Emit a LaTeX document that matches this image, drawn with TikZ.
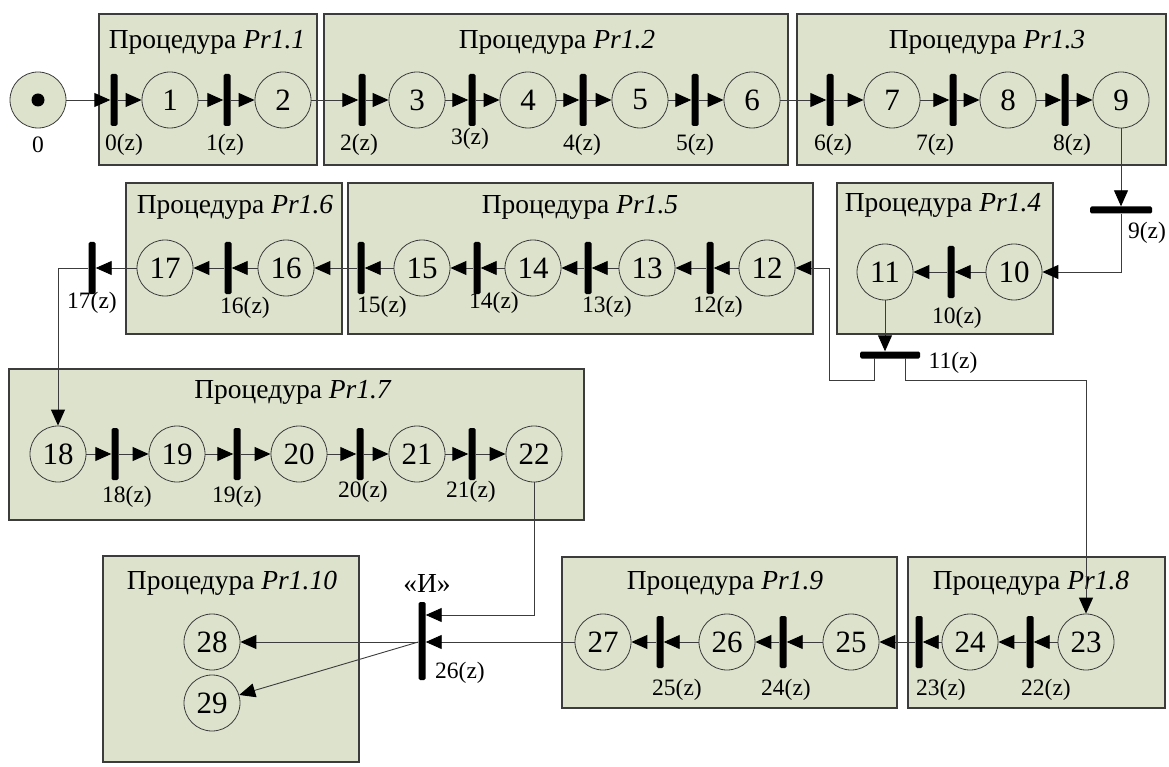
\documentclass[tikz,border=0pt]{standalone}
\usepackage{fontspec}
\setmainfont{Liberation Serif}
\usetikzlibrary{arrows.meta}
\definecolor{boxfill}{RGB}{220,226,204}
\definecolor{edge}{RGB}{60,60,60}
\tikzset{
 place/.style={circle,draw=edge,line width=0.8pt,fill=boxfill,minimum size=56pt,inner sep=0pt,font=\fontsize{31}{33}\selectfont},
 vbar/.style={fill=black,minimum width=7pt,minimum height=52pt,inner sep=0pt,rounded corners=1.5pt},
 hbar/.style={fill=black,minimum width=62pt,minimum height=7pt,inner sep=0pt,rounded corners=1.5pt},
 proc/.style={draw=edge,fill=boxfill,line width=1.2pt},
 ttl/.style={font=\fontsize{27.5}{29}\selectfont,inner sep=0pt},
 lbl/.style={font=\fontsize{23.5}{25}\selectfont,inner sep=0pt},
 arr/.style={draw=edge,line width=0.9pt,-{Triangle[length=16pt,width=14pt,color=black]}},
 ln/.style={draw=edge,line width=0.9pt},
}
\begin{document}
\begin{tikzpicture}[x=1pt,y=-1pt]
\useasboundingbox (0,0) rectangle (1169,767);
% ---------- boxes ----------
\path[proc] (99,14) rectangle (317,165);
\path[proc] (324,14) rectangle (788,165);
\path[proc] (797,14) rectangle (1166,165);
\path[proc] (126,183) rectangle (342,334);
\path[proc] (348,183) rectangle (813,334);
\path[proc] (837,183) rectangle (1053,334);
\path[proc] (9,369) rectangle (584,520);
\path[proc] (103,556) rectangle (359,762);
\path[proc] (562,557) rectangle (897,708);
\path[proc] (908,557) rectangle (1165,708);
% ---------- titles ----------
\node[ttl] (t1) at (207,42) {Процедура \textit{Pr1.1}};
\node[ttl] (t2) at (557,42) {Процедура \textit{Pr1.2}};
\node[ttl] (t3) at (987,42) {Процедура \textit{Pr1.3}};
\node[ttl] (t4) at (943,205) {Процедура \textit{Pr1.4}};
\node[ttl] (t5) at (580,207) {Процедура \textit{Pr1.5}};
\node[ttl] (t6) at (235,207) {Процедура \textit{Pr1.6}};
\node[ttl] (t7) at (293,392) {Процедура \textit{Pr1.7}};
\node[ttl] (t8) at (1031,583) {Процедура \textit{Pr1.8}};
\node[ttl] (t9) at (725,583) {Процедура \textit{Pr1.9}};
\node[ttl] (t10) at (232,583) {Процедура \textit{Pr1.10}};
% ---------- row 1 ----------
\node[place] (p0) at (38,100) {};
\fill (p0.center) circle (6.5pt);
\node[lbl] (l0) at (38,145) {0};
\node[vbar] (b0) at (114,100) {};
\node[place] (p1) at (170,100) {1};
\node[vbar] (b1) at (227,100) {};
\node[place] (p2) at (283,100) {2};
\node[vbar] (b2) at (362,100) {};
\node[place] (p3) at (417,100) {3};
\node[vbar] (b3) at (472,100) {};
\node[place] (p4) at (528,100) {4};
\node[vbar] (b4) at (583,100) {};
\node[place] (p5) at (640,100) {5};
\node[vbar] (b5) at (695,100) {};
\node[place] (p6) at (752,100) {6};
\node[vbar] (b6) at (830,100) {};
\node[place] (p7) at (892,100) {7};
\node[vbar] (b7) at (953,100) {};
\node[place] (p8) at (1008,100) {8};
\node[vbar] (b8) at (1065,100) {};
\node[place] (p9) at (1121,100) {9};
\node[lbl] at (124,145) {0(z)};
\node[lbl] at (225,145) {1(z)};
\node[lbl] at (359,145) {2(z)};
\node[lbl] at (470,139) {3(z)};
\node[lbl] at (582,145) {4(z)};
\node[lbl] at (695,145) {5(z)};
\node[lbl] at (833,145) {6(z)};
\node[lbl] at (935,145) {7(z)};
\node[lbl] at (1072,145) {8(z)};
\foreach \a/\b in {p0/b0,b0/p1,p1/b1,b1/p2,p2/b2,b2/p3,p3/b3,b3/p4,p4/b4,b4/p5,p5/b5,b5/p6,p6/b6,b6/p7,p7/b7,b7/p8,p8/b8,b8/p9}
  \draw[arr] (\a) -- (\b);
% ---------- 9(z) and Pr1.4 ----------
\node[hbar] (b9) at (1121,210) {};
\node[lbl] at (1147,233) {9(z)};
\node[place] (p10) at (1014,272) {10};
\node[vbar] (b10) at (951,272) {};
\node[place] (p11) at (885,272) {11};
\node[lbl] at (957,318) {10(z)};
\draw[arr] (p9) -- (b9);
\draw[arr] (b9) |- (p10);
\draw[arr] (p10) -- (b10);
\draw[arr] (b10) -- (p11);
\node[hbar,minimum width=60pt] (b11) at (890,355) {};
\node[lbl] at (953,363) {11(z)};
\draw[arr] (p11.south) -- (p11.south |- b11.north);
% ---------- Pr1.5 / Pr1.6 ----------
\node[place] (p12) at (767,268) {12};
\node[vbar] (b12) at (710,268) {};
\node[place] (p13) at (647,268) {13};
\node[vbar] (b13) at (588,268) {};
\node[place] (p14) at (533,268) {14};
\node[vbar] (b14) at (477,268) {};
\node[place] (p15) at (422,268) {15};
\node[vbar] (b15) at (361,268) {};
\node[place] (p16) at (286,268) {16};
\node[vbar] (b16) at (228,268) {};
\node[place] (p17) at (165,268) {17};
\node[vbar] (b17) at (92,268) {};
\node[lbl] at (718,307) {12(z)};
\node[lbl] at (607,307) {13(z)};
\node[lbl] at (494,303) {14(z)};
\node[lbl] at (382,307) {15(z)};
\node[lbl] at (245,308) {16(z)};
\node[lbl] at (92,303) {17(z)};
\foreach \a/\b in {p12/b12,b12/p13,p13/b13,b13/p14,p14/b14,b14/p15,p15/b15,b15/p16,p16/b16,b16/p17,p17/b17}
  \draw[arr] (\a) -- (\b);
% connectors from 11(z)
\coordinate (k11l) at (874,358);
\coordinate (k11a) at (874,380);
\coordinate (k11b) at (829,380);
\coordinate (k11r) at (905,358);
\coordinate (k11c) at (905,380);
\draw[arr] (k11l) -- (k11a) -- (k11b) |- (p12);
% ---------- Pr1.7 ----------
\node[place] (p18) at (58,454) {18};
\node[vbar] (b18) at (115,454) {};
\node[place] (p19) at (177,454) {19};
\node[vbar] (b19) at (237,454) {};
\node[place] (p20) at (299,454) {20};
\node[vbar] (b20) at (360,454) {};
\node[place] (p21) at (417,454) {21};
\node[vbar] (b21) at (472,454) {};
\node[place] (p22) at (534,454) {22};
\node[lbl] at (127,497) {18(z)};
\node[lbl] at (237,497) {19(z)};
\node[lbl] at (363,492) {20(z)};
\node[lbl] at (471,492) {21(z)};
\draw[arr] (b17) -| (p18);
\foreach \a/\b in {p18/b18,b18/p19,p19/b19,b19/p20,p20/b20,b20/p21,p21/b21,b21/p22}
  \draw[arr] (\a) -- (\b);
% ---------- row 4 ----------
\node[place] (p23) at (1086,642) {23};
\node[vbar] (b22) at (1030,642) {};
\node[place] (p24) at (970,642) {24};
\node[vbar] (b23) at (919,642) {};
\node[place] (p25) at (851,642) {25};
\node[vbar] (b24) at (783,642) {};
\node[place] (p26) at (727,642) {26};
\node[vbar] (b25) at (660,642) {};
\node[place] (p27) at (603,642) {27};
\node[lbl] at (1046,690) {22(z)};
\node[lbl] at (941,690) {23(z)};
\node[lbl] at (786,690) {24(z)};
\node[lbl] at (677,690) {25(z)};
\draw[arr] (k11r) -- (k11c) -| (p23);
\foreach \a/\b in {p23/b22,b22/p24,p24/b23,b23/p25,p25/b24,b24/p26,p26/b25,b25/p27}
  \draw[arr] (\a) -- (\b);
% ---------- AND transition and Pr1.10 ----------
\node[vbar,minimum height=78pt] (b26) at (422,641) {};
\node[ttl] at (427,583) {«И»};
\node[lbl] at (460,673) {26(z)};
\node[place] (p28) at (212,642) {28};
\node[place] (p29) at (212,703) {29};
\coordinate (k22) at (534,615);
\draw[arr] (p22) -- (k22) -- (k22 -| b26.east);
\draw[arr] (p27) -- (p27 -| b26.east);
\draw[arr] (b26.west |- p28) -- (p28);
\draw[arr] (b26.west |- p28) -- (p29);
\end{tikzpicture}
\end{document}
